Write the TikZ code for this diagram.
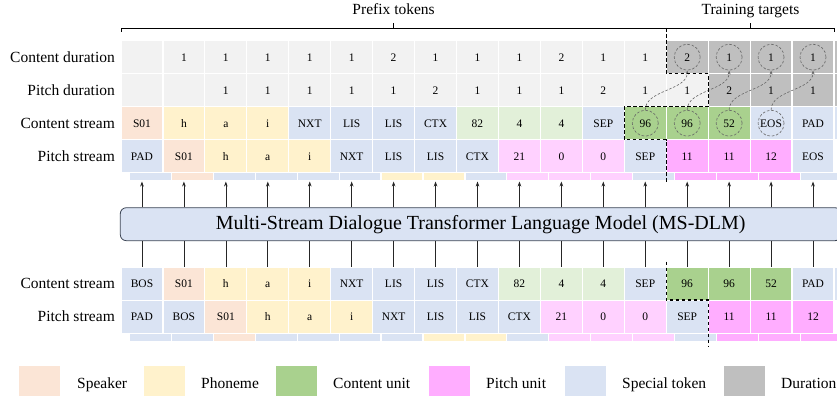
\documentclass[tikz,border=0pt]{standalone}
\usepackage{fontspec}
\setmainfont{Liberation Serif}
\usetikzlibrary{arrows.meta,calc}
\definecolor{spk}{HTML}{FBE5D6}
\definecolor{phn}{HTML}{FFF2CC}
\definecolor{spc}{HTML}{DAE3F3}
\definecolor{cul}{HTML}{E2F0D9}
\definecolor{cuh}{HTML}{A9D18E}
\definecolor{pul}{HTML}{FFD1FF}
\definecolor{puh}{HTML}{FFADFF}
\definecolor{dul}{HTML}{F2F2F2}
\definecolor{duh}{HTML}{BFBFBF}
\definecolor{boxline}{HTML}{3B4454}
\begin{document}
\begin{tikzpicture}[x=1pt,y=-1pt,
  cell/.style={draw=white, line width=1.2pt, inner sep=0pt, minimum width=41.94pt, minimum height=33pt,
    font=\fontsize{11.5}{12}\selectfont, text height=7.6pt, text depth=0pt},
  strippc/.style={draw=white, line width=1.2pt, inner sep=0pt, minimum width=41.94pt, minimum height=8.6pt},
  rowlab/.style={anchor=base east, inner sep=0pt, font=\fontsize{15.5}{17}\selectfont},
  toplab/.style={anchor=base, inner sep=0pt, font=\fontsize{15.5}{17}\selectfont},
  legtxt/.style={anchor=base west, inner sep=0pt, font=\fontsize{15.5}{17}\selectfont},
  legsq/.style={inner sep=0pt, minimum width=41pt, minimum height=30pt},
  modelbox/.style={draw=boxline, line width=0.8pt, fill=spc, rounded corners=6pt, inner sep=0pt,
    minimum width=720.7pt, minimum height=33pt, font=\fontsize{20}{22}\selectfont},
  dcirc/.style={circle, draw=black!60, line width=0.6pt, dash pattern=on 2.6pt off 1.8pt, minimum size=26pt, inner sep=0pt},
  darr/.style={draw=black!60, line width=0.6pt, dash pattern=on 2.4pt off 1.8pt, -{Stealth[length=4pt,width=3pt]}},
  uparr/.style={draw=black!85, line width=0.7pt, -{Stealth[length=5pt,width=3.6pt]}},
  upline/.style={draw=black!85, line width=0.7pt},
  bound/.style={draw=black, line width=1.4pt, dash pattern=on 3.6pt off 2.4pt},
  brk/.style={draw=black, line width=0.9pt}
]
\useasboundingbox (0,0) rectangle (837,396);
\clip (0,0) rectangle (837,396);

% ---------- top rows ----------
\foreach \t/\c [count=\i from 0] in {{}/dul,1/dul,1/dul,1/dul,1/dul,1/dul,2/dul,1/dul,1/dul,1/dul,2/dul,1/dul,1/dul,2/duh,1/duh,1/duh,1/duh,{}/duh}
  \node[cell, fill=\c] (cd\i) at ({141.97+41.94*\i},57.2) {\t};
\foreach \t/\c [count=\i from 0] in {{}/dul,{}/dul,1/dul,1/dul,1/dul,1/dul,1/dul,2/dul,1/dul,1/dul,1/dul,2/dul,1/dul,1/dul,2/duh,1/duh,1/duh,{}/duh}
  \node[cell, fill=\c] (pd\i) at ({141.97+41.94*\i},90.2) {\t};
\foreach \t/\c [count=\i from 0] in {S01/spk,h/phn,a/phn,i/phn,NXT/spc,LIS/spc,LIS/spc,CTX/spc,82/cul,4/cul,4/cul,SEP/spc,96/cuh,96/cuh,52/cuh,EOS/spc,PAD/spc,{}/spc}
  \node[cell, fill=\c] (cs\i) at ({141.97+41.94*\i},123.2) {\t};
\foreach \t/\c [count=\i from 0] in {PAD/spc,S01/spk,h/phn,a/phn,i/phn,NXT/spc,LIS/spc,LIS/spc,CTX/spc,21/pul,0/pul,0/pul,SEP/spc,11/puh,11/puh,12/puh,EOS/spc}
  \node[cell, fill=\c] (ps\i) at ({141.97+41.94*\i},156.2) {\t};
\foreach \c [count=\i from 0] in {spc,spk,spc,spc,spc,spc,phn,phn,spc,pul,pul,pul,spc,puh,puh,puh,spc}
  \node[strippc, fill=\c] (ts\i) at ({150.37+41.94*\i},176.6) {};

% ---------- bottom rows ----------
\foreach \t/\c [count=\i from 0] in {BOS/spc,S01/spk,h/phn,a/phn,i/phn,NXT/spc,LIS/spc,LIS/spc,CTX/spc,82/cul,4/cul,4/cul,SEP/spc,96/cuh,96/cuh,52/cuh,PAD/spc,{}/spc}
  \node[cell, fill=\c] (bc\i) at ({141.97+41.94*\i},283.6) {\t};
\foreach \t/\c [count=\i from 0] in {PAD/spc,BOS/spc,S01/spk,h/phn,a/phn,i/phn,NXT/spc,LIS/spc,LIS/spc,CTX/spc,21/pul,0/pul,0/pul,SEP/spc,11/puh,11/puh,12/puh}
  \node[cell, fill=\c] (bp\i) at ({141.97+41.94*\i},316.6) {\t};
\foreach \c [count=\i from 0] in {spc,spc,spk,spc,spc,spc,spc,phn,phn,spc,pul,pul,pul,spc,puh,puh,puh}
  \node[strippc, fill=\c] (bs\i) at ({150.37+41.94*\i},337.5) {};

% ---------- row labels ----------
\node[rowlab] (l1) at (115,62.5) {Content duration};
\node[rowlab] (l2) at (115,95.5) {Pitch duration};
\node[rowlab] (l3) at (115,128.5) {Content stream};
\node[rowlab] (l4) at (115,161.5) {Pitch stream};
\node[rowlab] (l5) at (115,288.9) {Content stream};
\node[rowlab] (l6) at (115,321.9) {Pitch stream};

% ---------- model ----------
\node[modelbox] (model) at (480.65,224.2) {Multi-Stream Dialogue Transformer Language Model (MS-DLM)};
\foreach \i in {0,...,16} {
  \draw[uparr] (model.north -| ps\i) -- (ps\i |- ts\i.south);
  \draw[upline] (bc\i.north) -- (bc\i |- model.south);
}

% ---------- circles and duration arrows ----------
\foreach \i in {13,...,16} \node[dcirc] (cdc\i) at (cd\i) {};
\foreach \i in {12,...,15} \node[dcirc] (csc\i) at (cs\i) {};
\foreach \i [evaluate=\i as \j using int(\i+1)] in {12,...,15}
  \draw[darr] (csc\i.north) .. controls +(0,-20) and +(0,20) .. (cdc\j.south);

% ---------- brackets ----------
\draw[brk] (121,31.8) -- (121,28) -- (666.2,28) -- (666.2,31.8);
\draw[brk] (393.6,28) -- (393.6,23);
\draw[brk] (666.2,28) -- (834,28) -- (834,31.8);
\draw[brk] (750,28) -- (750,23);
\node[toplab] (pt) at (393.6,14.3) {Prefix tokens};
\node[toplab] (tt) at (750.5,14.3) {Training targets};

% ---------- boundaries ----------
\draw[bound] (666.2,28) -- (666.2,73.7) -- (708.2,73.7) -- (708.2,106.7) -- (624.3,106.7) -- (624.3,139.7) -- (666.2,139.7) -- (666.2,182);
\draw[bound] (666.2,261.5) -- (666.2,300.1) -- (708.2,300.1) -- (708.2,346);

% ---------- legend ----------
\node[legsq, fill=spk] (g1) at (39.5,381) {};
\node[legtxt] (t1) at (77,388) {Speaker};
\node[legsq, fill=phn] (g2) at (164.5,381) {};
\node[legtxt] (t2) at (201,388) {Phoneme};
\node[legsq, fill=cuh] (g3) at (296.5,381) {};
\node[legtxt] (t3) at (333,388) {Content unit};
\node[legsq, fill=puh] (g4) at (449.5,381) {};
\node[legtxt] (t4) at (486,388) {Pitch unit};
\node[legsq, fill=spc] (g5) at (585.5,381) {};
\node[legtxt] (t5) at (622,388) {Special token};
\node[legsq, fill=duh] (g6) at (744.5,381) {};
\node[legtxt] (t6) at (781,388) {Duration};
\end{tikzpicture}
\end{document}
